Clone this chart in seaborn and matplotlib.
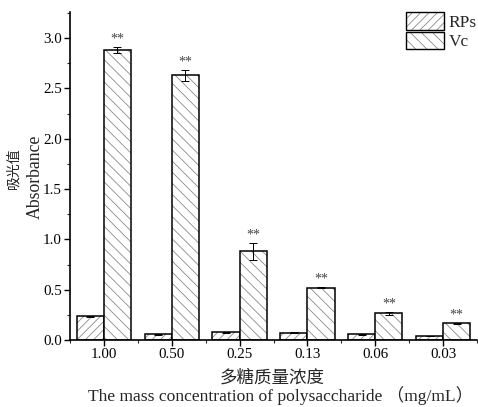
import matplotlib
matplotlib.use("Agg")
import matplotlib.pyplot as plt
import matplotlib.patches as mpatches
import matplotlib.colors as mcolors
from matplotlib.ticker import MultipleLocator, FixedLocator
from matplotlib.container import BarContainer
import seaborn as sns
import pandas as pd
import numpy as np

concentrations = ["1.00", "0.50", "0.25", "0.13", "0.06", "0.03"]
rps_values = [0.235, 0.057, 0.076, 0.074, 0.058, 0.040]
rps_errors = [0.006, 0.004, 0.004, 0.004, 0.005, 0.003]
vc_values = [2.88, 2.63, 0.88, 0.52, 0.265, 0.166]
vc_errors = [0.03, 0.055, 0.08, 0.008, 0.015, 0.004]
series = ["RPs", "Vc"]
marks = ["**", "**", "**", "**", "**", "**"]
ylabel_cn = "吸光值"
ylabel_en = "Absorbance"
xlabel_cn = "多糖质量浓度"
xlabel_en = "The mass concentration of polysaccharide （mg/mL）"

df = pd.DataFrame({
    "conc": concentrations * 2,
    "value": rps_values + vc_values,
    "series": [series[0]] * len(concentrations) + [series[1]] * len(concentrations),
})

sns.set_theme(style="ticks")
plt.rcParams["font.family"] = ["Liberation Serif", "Noto Sans CJK SC"]
plt.rcParams["hatch.linewidth"] = 0.6
plt.rcParams["axes.unicode_minus"] = False

fig = plt.figure(figsize=(4.78, 4.07), dpi=100)
ax = fig.add_axes([0.1464, 0.1646, 0.998 - 0.1464, 0.9705 - 0.1646])

sns.barplot(data=df, x="conc", y="value", hue="series", order=concentrations,
            hue_order=series, errorbar=None, width=0.8, ax=ax,
            palette=["white", "white"], saturation=1, legend=False)

hatches = ["////", "\\\\\\"]
hatch_col = mcolors.to_rgba("#8a8a8a")
errs = [rps_errors, vc_errors]
vals = [rps_values, vc_values]
bar_conts = [c for c in ax.containers if isinstance(c, BarContainer)]
for ci, cont in enumerate(bar_conts):
    xs = []
    for p in cont.patches:
        p.set_facecolor("white")
        p.set_edgecolor("black")
        p.set_linewidth(1.1)
        p.set_hatch(hatches[ci])
        p._hatch_color = hatch_col
        xs.append(p.get_x() + p.get_width() / 2)
    ax.errorbar(xs, vals[ci], yerr=errs[ci], fmt="none", ecolor="black",
                elinewidth=0.7, capsize=3, capthick=0.7, zorder=3)
    if ci == 1:
        for x, v, e, m in zip(xs, vals[ci], errs[ci], marks):
            ax.text(x, v + e + 0.015, m, ha="center", va="bottom", fontsize=10,
                    color="#444444")

ax.set_xlim(-0.5, 5.5)
ax.set_ylim(0, 3.26)
ax.yaxis.set_major_locator(MultipleLocator(0.5))
ax.yaxis.set_minor_locator(MultipleLocator(0.25))
ax.xaxis.set_minor_locator(FixedLocator(np.arange(-0.5, 6.0, 1.0)))
ax.yaxis.set_major_formatter(matplotlib.ticker.FormatStrFormatter("%.1f"))

for s in ["top", "right"]:
    ax.spines[s].set_visible(False)
for s in ["left", "bottom"]:
    ax.spines[s].set_linewidth(1.2)
    ax.spines[s].set_color("black")

ax.tick_params(axis="both", which="major", direction="out", length=4, width=1.0,
               labelsize=10.8, colors="black", pad=2)
ax.tick_params(axis="both", which="minor", direction="out", length=2, width=0.8)

ax.set_xlabel("")
ax.set_ylabel("")
fig.text(35 / 478, 1 - 177 / 407, ylabel_en, rotation=90, ha="center", va="center",
         fontsize=12.8)
fig.text(14 / 478, 1 - 168 / 407, ylabel_cn, rotation=90, ha="center", va="center",
         fontsize=10)
fig.text(272 / 478, 1 - 378 / 407, xlabel_cn, ha="center", va="center", fontsize=12.6)
fig.text(281 / 478, 1 - 396 / 407, xlabel_en, ha="center", va="center", fontsize=12.6)

handles = []
for ci in range(2):
    h = mpatches.Patch(facecolor="white", edgecolor="black", hatch=hatches[ci],
                       linewidth=1.0, label=series[ci])
    h._hatch_color = hatch_col
    handles.append(h)
leg = ax.legend(handles=handles, loc="upper right", bbox_to_anchor=(1.0, 1.0),
                frameon=False, fontsize=12.5, handlelength=2.15, handleheight=1.2,
                labelspacing=0.05, handletextpad=0.3, borderaxespad=0.0,
                borderpad=0.0)
for h in leg.legend_handles:
    h._hatch_color = hatch_col

fig.savefig("out.png", dpi=100, facecolor="white")
